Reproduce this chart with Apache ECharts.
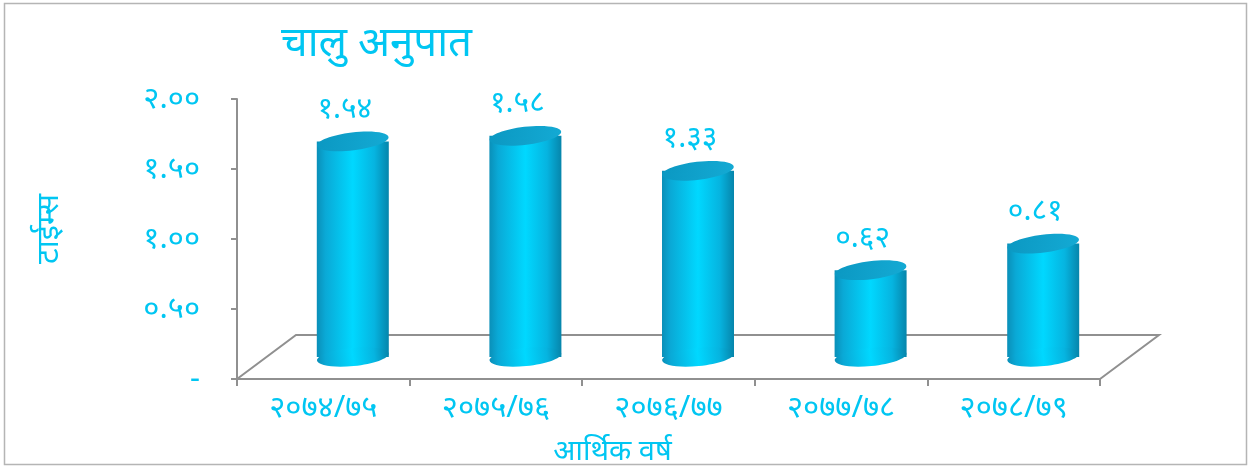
<!DOCTYPE html>
<html>
<head>
<meta charset="utf-8">
<script src="https://cdn.jsdelivr.net/npm/echarts@6/dist/echarts.min.js"></script>
<style>
html,body{margin:0;padding:0;background:#fff;}
#chart{width:1251px;height:467px;}
</style>
</head>
<body>
<div id="chart"></div>
<script>
const categories = ['२०७४/७५', '२०७५/७६', '२०७६/७७', '२०७७/७८', '२०७८/७९'];
const values = [1.54, 1.58, 1.33, 0.62, 0.81];
const valueLabels = ['१.५४', '१.५८', '१.३३', '०.६२', '०.८१'];
const yTickLabels = {0: '-', 0.5: '०.५०', 1: '१.००', 1.5: '१.५०', 2: '२.००'};
const titleText = 'चालु अनुपात';
const yName = 'टाईम्स';
const xName = 'आर्थिक वर्ष';

const TXT = '#00c6f2';
const FONT = '"Noto Sans", "Lato", sans-serif';
const DX = 59, DY = -44; // floor depth
const BAR_W = 72;

const chart = echarts.init(document.getElementById('chart'), null, {renderer: 'canvas'});

const bodyGrad = () => new echarts.graphic.LinearGradient(0, 0, 1, 0, [
  {offset: 0, color: '#0a8fb8'},
  {offset: 0.12, color: '#0aa9d6'},
  {offset: 0.5, color: '#00d8ff'},
  {offset: 0.8, color: '#06b4e0'},
  {offset: 1, color: '#0685ab'}
]);
const topGrad = () => new echarts.graphic.LinearGradient(0, 0, 1, 1, [
  {offset: 0, color: '#0b98c2'},
  {offset: 1, color: '#14aad4'}
]);

const option = {
  animation: false,
  backgroundColor: '#fff',
  title: {
    text: titleText,
    left: 276, top: 18,
    textStyle: {color: TXT, fontSize: 42, fontWeight: 'normal', fontFamily: FONT}
  },
  graphic: [{
    type: 'rect', shape: {x: 4.5, y: 3.5, width: 1242, height: 461},
    style: {fill: 'none', stroke: '#b5b5b5', lineWidth: 1.5}, silent: true, z: -1
  }],
  grid: {left: 237, top: 99, right: 151, bottom: 88, containLabel: false, outerBoundsMode: 'none'},
  xAxis: {
    type: 'category',
    data: categories,
    boundaryGap: true,
    name: xName,
    nameLocation: 'middle',
    nameGap: 58,
    nameTextStyle: {color: TXT, fontSize: 29, fontFamily: FONT, padding: [0, 112, 0, 0]},
    axisLine: {show: true, lineStyle: {color: '#909090', width: 2}},
    axisTick: {show: true, alignWithLabel: false, length: 7, lineStyle: {color: '#909090', width: 2}},
    axisLabel: {color: TXT, fontSize: 31, fontFamily: FONT, margin: 14}
  },
  yAxis: {
    type: 'value',
    min: 0, max: 2, interval: 0.5,
    name: yName,
    nameLocation: 'middle',
    nameRotate: 90,
    nameGap: 172,
    nameTextStyle: {color: TXT, fontSize: 31, fontFamily: FONT, padding: [0, 0, 0, 20]},
    splitLine: {show: false},
    axisLine: {show: true, lineStyle: {color: '#909090', width: 2}},
    axisTick: {show: true, length: 6, lineStyle: {color: '#909090', width: 2}},
    axisLabel: {
      color: TXT, fontSize: 31, fontFamily: FONT, margin: 37,
      formatter: v => yTickLabels[v] !== undefined ? yTickLabels[v] : ''
    }
  },
  series: [
    {
      type: 'custom',
      name: 'floor',
      data: [0],
      z: 1,
      renderItem: (params, api) => {
        const band = api.size([1, 0])[0];
        const p0 = api.coord([0, 0]);
        const p1 = api.coord([categories.length - 1, 0]);
        const l = p0[0] - band / 2, r = p1[0] + band / 2, y = p0[1];
        return {
          type: 'polyline',
          shape: {points: [[l, y], [l + DX, y + DY], [r + DX, y + DY], [r, y]]},
          style: {fill: null, stroke: '#909090', lineWidth: 2}
        };
      }
    },
    {
      type: 'custom',
      name: 'ratio',
      data: values.map((v, i) => [i, v]),
      encode: {x: 0, y: 1},
      z: 5,
      renderItem: (params, api) => {
        const i = api.value(0);
        const top = api.coord([i, api.value(1)]);
        const base = api.coord([i, 0]);
        const cx = top[0] + DX / 2;
        const ty = top[1] + DY / 2;
        const by = base[1] + DY / 2;
        const rx = BAR_W / 2, ry = 9;
        return {
          type: 'group',
          children: [
            {type: 'rect', shape: {x: cx - rx, y: ty, width: BAR_W, height: by - ty}, style: {fill: bodyGrad()}},
            {type: 'ellipse', shape: {cx: 0, cy: 0, rx: rx, ry: ry}, x: cx, y: by, rotation: 0.1, style: {fill: bodyGrad()}},
            {type: 'ellipse', shape: {cx: 0, cy: 0, rx: rx, ry: ry}, x: cx, y: ty, rotation: 0.12, style: {fill: topGrad()}},
            {type: 'text', x: cx - 8, y: ty - 32, style: {
              text: valueLabels[params.dataIndex], fill: TXT, fontSize: 30, fontFamily: FONT,
              align: 'center', verticalAlign: 'middle'
            }}
          ]
        };
      }
    }
  ]
};
chart.setOption(option);
</script>
</body>
</html>
